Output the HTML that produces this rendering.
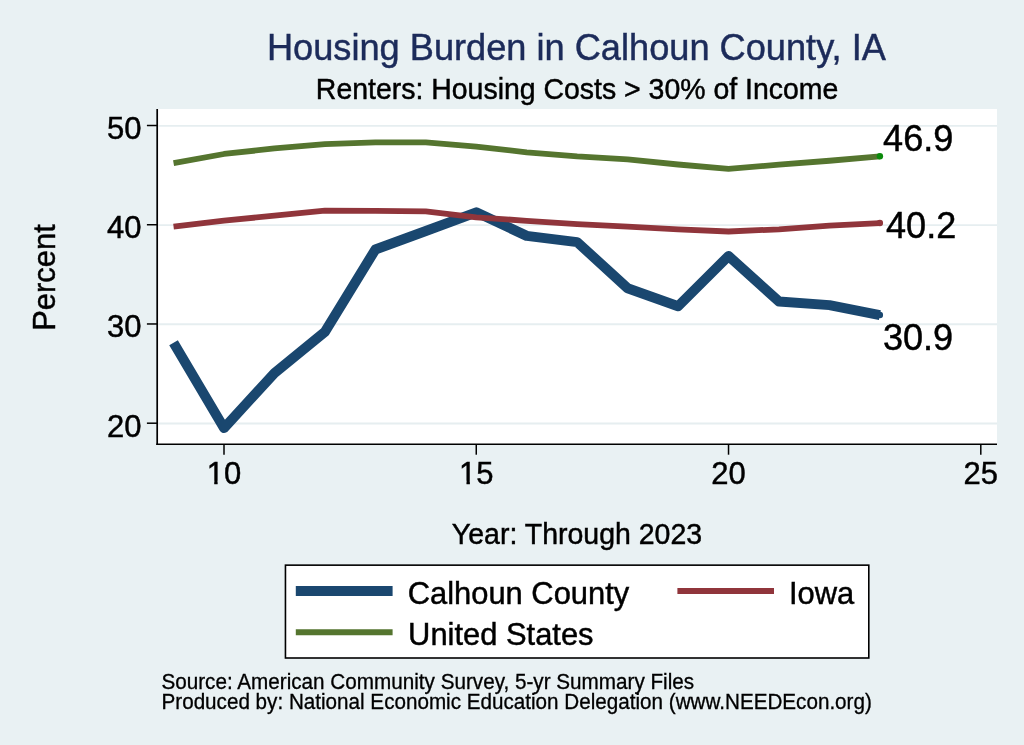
<!DOCTYPE html>
<html><head><meta charset="utf-8"><title>Housing Burden in Calhoun County, IA</title>
<style>
html,body{margin:0;padding:0;background:#e9f1f3;}
body{width:1024px;height:745px;overflow:hidden;}
svg{display:block;will-change:transform;font-family:"Liberation Sans",Arial,Helvetica,sans-serif;}
</style></head><body>
<svg width="1024" height="745" viewBox="0 0 1024 745">
<defs><clipPath id="nofoot" clipPathUnits="userSpaceOnUse"><rect x="-40" y="-40" width="80" height="37.05"/><rect x="-9.75" y="-3.5" width="3.35" height="7"/><rect x="-0.5" y="-3" width="40" height="8"/></clipPath></defs>
<rect width="1024" height="745" fill="#e9f1f3"/>
<rect x="157.2" y="109" width="839.8" height="335.3" fill="#fff"/>
<line x1="158.5" x2="997" y1="423.50" y2="423.50" stroke="#e6eef0" stroke-width="1.8"/>
<line x1="158.5" x2="997" y1="324.27" y2="324.27" stroke="#e6eef0" stroke-width="1.8"/>
<line x1="158.5" x2="997" y1="225.04" y2="225.04" stroke="#e6eef0" stroke-width="1.8"/>
<line x1="158.5" x2="997" y1="125.81" y2="125.81" stroke="#e6eef0" stroke-width="1.8"/>
<line x1="157.2" x2="157.2" y1="109" y2="445.1" stroke="#000" stroke-width="1.7"/>
<line x1="156.3" x2="997" y1="444.3" y2="444.3" stroke="#000" stroke-width="1.6"/>
<line x1="146.9" x2="157.2" y1="423.20" y2="423.20" stroke="#000" stroke-width="1.5"/>
<text transform="translate(141.4,436.5) scale(1,1.04)" font-size="31" text-anchor="end" fill="#000" stroke="#000" stroke-width="0.45">20</text>
<line x1="146.9" x2="157.2" y1="323.97" y2="323.97" stroke="#000" stroke-width="1.5"/>
<text transform="translate(141.4,337.27) scale(1,1.04)" font-size="31" text-anchor="end" fill="#000" stroke="#000" stroke-width="0.45">30</text>
<line x1="146.9" x2="157.2" y1="224.74" y2="224.74" stroke="#000" stroke-width="1.5"/>
<text transform="translate(141.4,238.04) scale(1,1.04)" font-size="31" text-anchor="end" fill="#000" stroke="#000" stroke-width="0.45">40</text>
<line x1="146.9" x2="157.2" y1="125.51" y2="125.51" stroke="#000" stroke-width="1.5"/>
<text transform="translate(141.4,138.81) scale(1,1.04)" font-size="31" text-anchor="end" fill="#000" stroke="#000" stroke-width="0.45">50</text>
<line x1="224.00" x2="224.00" y1="444.3" y2="454.7" stroke="#000" stroke-width="1.5"/>
<text transform="translate(224.0,483.8) scale(1,1.04)" font-size="31" text-anchor="middle" fill="#000" stroke="#000" stroke-width="0.45" clip-path="url(#nofoot)">10</text>
<line x1="476.26" x2="476.26" y1="444.3" y2="454.7" stroke="#000" stroke-width="1.5"/>
<text transform="translate(476.26,483.8) scale(1,1.04)" font-size="31" text-anchor="middle" fill="#000" stroke="#000" stroke-width="0.45" clip-path="url(#nofoot)">15</text>
<line x1="728.53" x2="728.53" y1="444.3" y2="454.7" stroke="#000" stroke-width="1.5"/>
<text transform="translate(728.53,483.8) scale(1,1.04)" font-size="31" text-anchor="middle" fill="#000" stroke="#000" stroke-width="0.45">20</text>
<line x1="980.80" x2="980.80" y1="444.3" y2="454.7" stroke="#000" stroke-width="1.5"/>
<text transform="translate(980.8,483.8) scale(1,1.04)" font-size="31" text-anchor="middle" fill="#000" stroke="#000" stroke-width="0.45">25</text>
<polyline points="173.55,342.72 224.00,428.06 274.45,373.09 324.91,331.91 375.36,249.55 425.81,230.99 476.26,212.34 526.72,235.85 577.17,242.11 627.62,288.25 678.08,306.21 728.53,256.00 778.98,301.44 829.44,305.12 879.89,315.04" fill="none" stroke="#1a476f" stroke-width="10" stroke-linejoin="round" stroke-linecap="butt"/>
<circle cx="879.89" cy="315.04" r="3.2" fill="#1a476f"/>
<polyline points="173.55,226.72 224.00,220.57 274.45,215.71 324.91,210.55 375.36,210.95 425.81,211.34 476.26,217.30 526.72,220.77 577.17,224.05 627.62,226.63 678.08,229.40 728.53,231.49 778.98,229.30 829.44,225.73 879.89,223.05" fill="none" stroke="#90353b" stroke-width="5.8" stroke-linejoin="round" stroke-linecap="butt"/>
<circle cx="879.89" cy="223.05" r="3.2" fill="#90353b"/>
<polyline points="173.55,163.12 224.00,153.99 274.45,148.43 324.91,144.07 375.36,142.38 425.81,142.38 476.26,146.65 526.72,152.30 577.17,156.47 627.62,159.45 678.08,164.51 728.53,168.87 778.98,164.71 829.44,160.74 879.89,156.27" fill="none" stroke="#55752f" stroke-width="5.8" stroke-linejoin="round" stroke-linecap="butt"/>
<circle cx="879.89" cy="156.27" r="3.2" fill="#0b8a0b"/>
<text transform="translate(883.1,151.1) scale(1,1.04)" font-size="36.1" text-anchor="start" fill="#000" stroke="#000" stroke-width="0.45">46.9</text>
<text transform="translate(886.0,238.0) scale(1,1.04)" font-size="36.1" text-anchor="start" fill="#000" stroke="#000" stroke-width="0.45">40.2</text>
<text transform="translate(882.9,349.9) scale(1,1.04)" font-size="36.1" text-anchor="start" fill="#000" stroke="#000" stroke-width="0.45">30.9</text>
<text transform="translate(576.4,60.2) scale(1,1.04)" font-size="36.2" text-anchor="middle" fill="#1c2b5a" stroke="#1c2b5a" stroke-width="0.45">Housing Burden in Calhoun County, IA</text>
<text transform="translate(577.1,98.75) scale(1,1.04)" font-size="28.45" text-anchor="middle" fill="#000" stroke="#000" stroke-width="0.45">Renters: Housing Costs &gt; 30% of Income</text>
<text transform="translate(577.0,543.9) scale(1,1.04)" font-size="28.5" text-anchor="middle" fill="#000" stroke="#000" stroke-width="0.45">Year: Through 2023</text>
<text transform="translate(55.1,277.5) rotate(-90) scale(1,1.04)" font-size="30.9" text-anchor="middle" fill="#000" stroke="#000" stroke-width="0.45">Percent</text>
<rect x="285.45" y="565.15" width="583.35" height="92.85" fill="#fff" stroke="#000" stroke-width="1.6"/>
<line x1="295.8" x2="392.6" y1="591" y2="591" stroke="#1a476f" stroke-width="9.8"/>
<line x1="677.4" x2="774.0" y1="591" y2="591" stroke="#90353b" stroke-width="6"/>
<line x1="295.8" x2="392.6" y1="632.3" y2="632.3" stroke="#55752f" stroke-width="6"/>
<text transform="translate(407.7,603.7) scale(1,1.04)" font-size="30.9" text-anchor="start" fill="#000" stroke="#000" stroke-width="0.45">Calhoun County</text>
<text transform="translate(788.9,603.7) scale(1,1.04)" font-size="30.9" text-anchor="start" fill="#000" stroke="#000" stroke-width="0.45">Iowa</text>
<text transform="translate(408.1,644.7) scale(1,1.04)" font-size="30.9" text-anchor="start" fill="#000" stroke="#000" stroke-width="0.45">United States</text>
<text transform="translate(161.4,688.7) scale(1,1.04)" font-size="20.69" text-anchor="start" fill="#000" stroke="#000" stroke-width="0.3">Source: American Community Survey, 5-yr Summary Files</text>
<text transform="translate(161.5,708.9) scale(1,1.04)" font-size="20.66" text-anchor="start" fill="#000" stroke="#000" stroke-width="0.3">Produced by: National Economic Education Delegation (www.NEEDEcon.org)</text>
</svg>
</body></html>
